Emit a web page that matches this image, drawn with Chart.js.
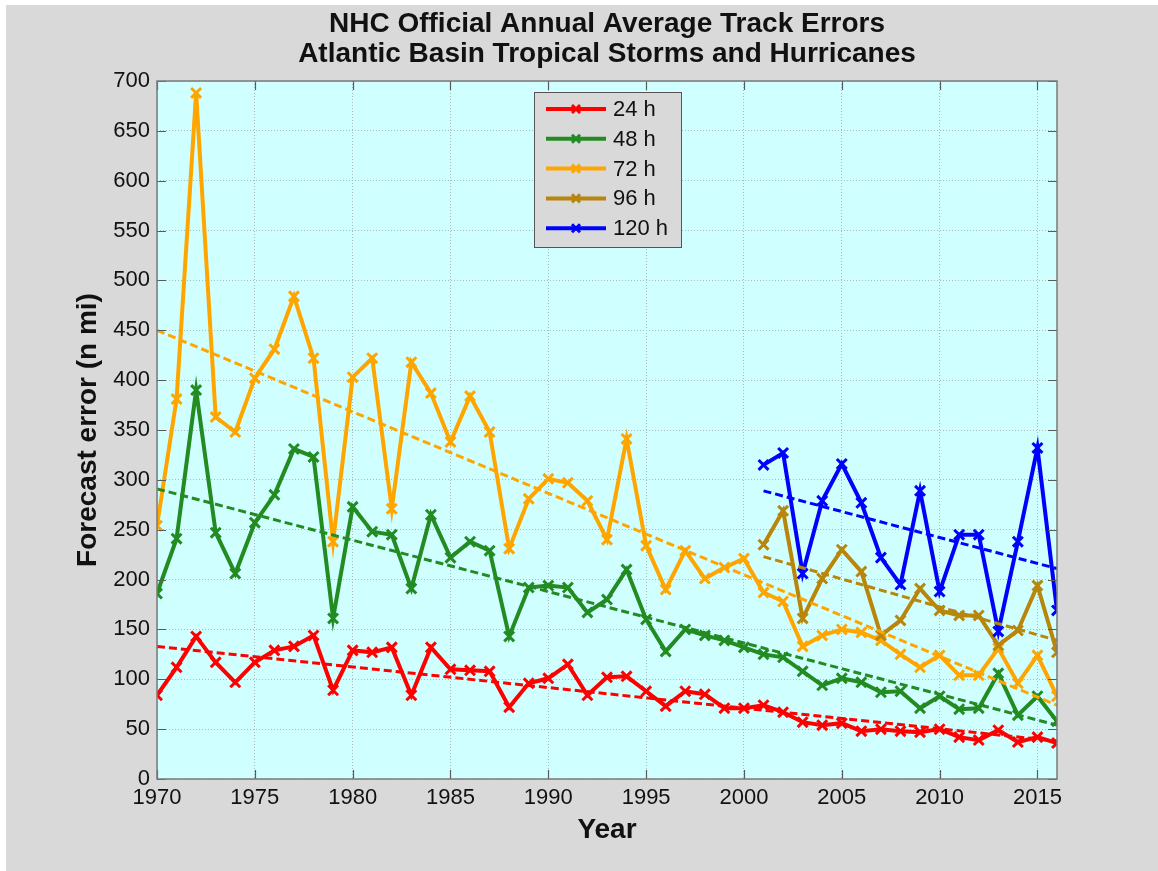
<!DOCTYPE html>
<html>
<head>
<meta charset="utf-8">
<script src="https://cdn.jsdelivr.net/npm/chart.js@4/dist/chart.umd.min.js"></script>
<style>
  html, body { margin: 0; padding: 0; background: #fff; }
  #wrap { position: absolute; left: 6px; top: 5px; width: 1152px; height: 866px; background: #d9d9d9; }
</style>
</head>
<body>
<div id="wrap"><canvas id="chart" width="1152" height="866"></canvas></div>
<script>
// years on the x axis
const years = [1970, 1971, 1972, 1973, 1974, 1975, 1976, 1977, 1978, 1979,
               1980, 1981, 1982, 1983, 1984, 1985, 1986, 1987, 1988, 1989,
               1990, 1991, 1992, 1993, 1994, 1995, 1996, 1997, 1998, 1999,
               2000, 2001, 2002, 2003, 2004, 2005, 2006, 2007, 2008, 2009,
               2010, 2011, 2012, 2013, 2014, 2015, 2016];
const yearsLong = [2001, 2002, 2003, 2004, 2005, 2006, 2007, 2008,
                   2009, 2010, 2011, 2012, 2013, 2014, 2015, 2016];

// track errors (n mi)
const err24 = [84, 112, 143, 117, 97, 117, 129, 133, 144, 89,
               129, 127, 132, 84, 132, 110, 109, 108, 72, 96,
               101, 115, 84, 102, 103, 88, 73, 88, 85, 71,
               71, 74, 67, 57, 54, 56, 48, 50, 48, 47,
               50, 42, 39, 49, 37, 42, 36];
const err48 = [186, 241, 390, 247, 206, 257, 285, 331, 323, 161,
               273, 248, 245, 191, 265, 222, 238, 229, 143, 192,
               194, 192, 167, 180, 210, 160, 128, 150, 144, 139,
               132, 125, 122, 108, 94, 101, 97, 87, 88, 71,
               83, 70, 71, 106, 64, 83, 58];
const err72 = [254, 381, 688, 363, 348, 402, 431, 484, 422, 238,
               403, 422, 271, 418, 387, 338, 384, 348, 231, 281,
               301, 297, 279, 240, 341, 234, 190, 229, 201, 212,
               221, 187, 178, 133, 144, 150, 147, 139, 125, 112,
               124, 104, 104, 131, 96, 124, 83];
const err96 = [235, 269, 161, 201, 230, 208, 144, 159, 191, 169, 164, 164, 134, 149, 194, 127];
const err120 = [315, 327, 206, 279, 316, 277, 222, 195, 289, 188, 245, 245, 148, 238, 332, 169];

// linear trend end points
const trendYears = [1970, 2016];
const trendYearsLong = [2001, 2016];
const trend24 = [133, 38];
const trend48 = [291, 54];
const trend72 = [450, 74];
const trend96 = [223, 139];
const trend120 = [289, 211];

const seriesLabels = ['24 h', '48 h', '72 h', '96 h', '120 h'];
const seriesColors = ['#ff0000', '#228b22', '#ffa500', '#b8860b', '#0000ff'];

const yTicks = [0, 50, 100, 150, 200, 250, 300, 350, 400, 450, 500, 550, 600, 650, 700];

const FONT = "'Liberation Sans', Arial, sans-serif";

function pts(xs, ys) {
  return xs.map(function(x, i) { return { x: x, y: ys[i] }; });
}

function errSet(idx, xs, ys) {
  return {
    label: seriesLabels[idx],
    data: pts(xs, ys),
    borderColor: seriesColors[idx],
    backgroundColor: seriesColors[idx],
    borderWidth: 4,
    pointStyle: 'crossRot',
    pointRadius: 7,
    pointBorderWidth: 3,
    pointHoverRadius: 7,
    tension: 0,
    fill: false,
    order: 10 - idx
  };
}

function trendSet(idx, xs, ys) {
  return {
    label: seriesLabels[idx] + ' trend',
    data: pts(xs, ys),
    borderColor: seriesColors[idx],
    borderWidth: 3,
    borderDash: [8, 4],
    pointRadius: 0,
    fill: false,
    order: 5 - idx
  };
}

const plotBg = {
  id: 'plotBg',
  beforeDraw: function(chart) {
    const a = chart.chartArea, ctx = chart.ctx;
    ctx.save();
    ctx.fillStyle = '#d0ffff';
    ctx.fillRect(a.left, a.top, a.right - a.left, a.bottom - a.top);
    ctx.restore();
  }
};

// box and inward ticks like the matlab axes
const axesBox = {
  id: 'axesBox',
  afterDatasetsDraw: function(chart) {
    const a = chart.chartArea, ctx = chart.ctx;
    const xs = chart.scales.x, ys = chart.scales.y;
    const len = 9;
    ctx.save();
    ctx.strokeStyle = '#5a5a5a';
    ctx.lineWidth = 1.2;
    ctx.beginPath();
    xs.ticks.forEach(function(t) {
      const px = Math.round(xs.getPixelForValue(t.value)) + 0.5;
      ctx.moveTo(px, a.bottom); ctx.lineTo(px, a.bottom - len);
      ctx.moveTo(px, a.top); ctx.lineTo(px, a.top + len);
    });
    ys.ticks.forEach(function(t) {
      const py = Math.round(ys.getPixelForValue(t.value)) + 0.5;
      ctx.moveTo(a.left, py); ctx.lineTo(a.left + len, py);
      ctx.moveTo(a.right, py); ctx.lineTo(a.right - len, py);
    });
    ctx.stroke();
    ctx.strokeStyle = '#7a7a7a';
    ctx.lineWidth = 1.5;
    ctx.strokeRect(a.left, a.top, a.right - a.left, a.bottom - a.top);
    ctx.restore();
  }
};

const boxLegend = {
  id: 'boxLegend',
  afterDraw: function(chart) {
    const a = chart.chartArea, ctx = chart.ctx;
    const left = a.left + 377, top = a.top + 11, w = 147, h = 155;
    ctx.save();
    ctx.fillStyle = '#d9d9d9';
    ctx.fillRect(left, top, w, h);
    ctx.strokeStyle = '#555';
    ctx.lineWidth = 1;
    ctx.strokeRect(left + 0.5, top + 0.5, w, h);
    ctx.font = '22px ' + FONT;
    ctx.textBaseline = 'middle';
    ctx.textAlign = 'left';
    seriesLabels.forEach(function(lab, i) {
      const y = top + 17 + i * 29.8;
      ctx.strokeStyle = seriesColors[i];
      ctx.lineWidth = 4;
      ctx.beginPath();
      ctx.moveTo(left + 12, y); ctx.lineTo(left + 72, y);
      ctx.stroke();
      ctx.lineWidth = 3;
      const mx = left + 42, r = 4;
      ctx.beginPath();
      ctx.moveTo(mx - r, y - r); ctx.lineTo(mx + r, y + r);
      ctx.moveTo(mx - r, y + r); ctx.lineTo(mx + r, y - r);
      ctx.stroke();
      ctx.fillStyle = '#111';
      ctx.fillText(lab, left + 79, y + 1);
    });
    ctx.restore();
  }
};

const bigTitle = {
  id: 'bigTitle',
  afterDraw: function(chart) {
    const a = chart.chartArea, ctx = chart.ctx;
    const cx = (a.left + a.right) / 2;
    ctx.save();
    ctx.fillStyle = '#111';
    ctx.font = 'bold 28px ' + FONT;
    ctx.textAlign = 'center';
    ctx.textBaseline = 'middle';
    ctx.fillText('NHC Official Annual Average Track Errors', cx, 19);
    ctx.fillText('Atlantic Basin Tropical Storms and Hurricanes', cx, 49);
    ctx.restore();
  }
};

const chart = new Chart('chart', {
  type: 'line',
  data: {
    datasets: [
      errSet(0, years, err24),
      errSet(1, years, err48),
      errSet(2, years, err72),
      errSet(3, yearsLong, err96),
      errSet(4, yearsLong, err120),
      trendSet(0, trendYears, trend24),
      trendSet(1, trendYears, trend48),
      trendSet(2, trendYears, trend72),
      trendSet(3, trendYearsLong, trend96),
      trendSet(4, trendYearsLong, trend120)
    ]
  },
  options: {
    responsive: false,
    animation: false,
    devicePixelRatio: 1,
    layout: { padding: { left: 0, right: 101, top: 76, bottom: 0 } },
    plugins: {
      legend: { display: false },
      title: { display: false },
      tooltip: { enabled: false }
    },
    scales: {
      x: {
        type: 'linear',
        min: 1970,
        max: 2016,
        afterFit: function(s) { s.height = 92; },
        ticks: {
          stepSize: 5,
          includeBounds: false,
          padding: 6,
          color: '#111',
          font: { family: FONT, size: 22 },
          callback: function(v) { return String(v); }
        },
        grid: { color: '#a9bcbc', lineWidth: 1, drawTicks: false },
        border: { display: false, dash: [1, 2] },
        title: {
          display: true,
          text: 'Year',
          color: '#111',
          font: { family: FONT, size: 28, weight: 'bold' },
          padding: { top: 0, bottom: 24 }
        }
      },
      y: {
        min: 0,
        max: 700,
        afterFit: function(s) { s.width = 151; },
        afterBuildTicks: function(s) { s.ticks = yTicks.map(function(v) { return { value: v }; }); },
        ticks: {
          padding: 7,
          color: '#111',
          font: { family: FONT, size: 22 },
          callback: function(v) { return String(v); }
        },
        grid: { color: '#a9bcbc', lineWidth: 1, drawTicks: false },
        border: { display: false, dash: [1, 2] },
        title: {
          display: true,
          text: 'Forecast error (n mi)',
          color: '#111',
          font: { family: FONT, size: 28, weight: 'bold' },
          padding: { top: 65, bottom: 0 }
        }
      }
    }
  },
  plugins: [plotBg, axesBox, boxLegend, bigTitle]
});
</script>
</body>
</html>
